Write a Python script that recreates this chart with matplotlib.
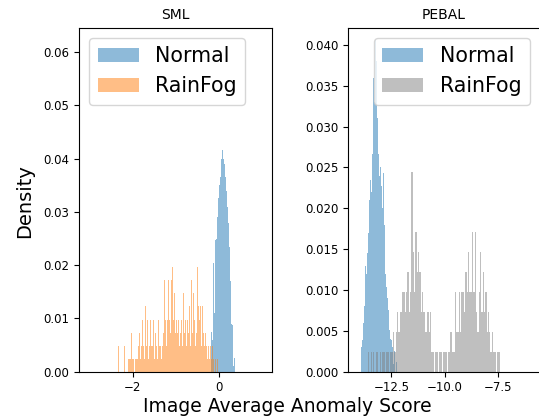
import numpy as np
from matplotlib import pyplot as plt

# SML panel: bar heights, bins of equal width
sml_normal_start = -0.192
sml_normal_width = 0.0232
sml_normal = [0.0075, 0.006, 0.0204, 0.011, 0.0247, 0.025, 0.029, 0.0326, 0.035, 0.0366,
              0.040, 0.0416, 0.040, 0.039, 0.0366, 0.034, 0.031, 0.028, 0.0235, 0.017,
              0.009, 0.0088, 0.001, 0.0025]

unit = 0.00245  # one sample of the RainFog set
sml_rain_start = -2.34
sml_rain_width = 0.0232
sml_rain = [2, 0, 0, 0, 0, 0, 2, 0, 0, 0, 1, 1, 1, 3, 1, 1, 0, 1, 1, 1,
            2, 3, 1, 2, 4, 2, 1, 5, 2, 4, 1, 2, 4, 2, 2, 4, 1, 3, 2, 1,
            4, 2, 2, 1, 2, 3, 7, 4, 2, 4, 7, 4, 3, 7, 8, 4, 6, 3, 4, 3,
            4, 2, 3, 4, 2, 6, 3, 4, 2, 4, 3, 5, 2, 7, 3, 6, 4, 2, 3, 8,
            5, 4, 5, 2, 5, 3, 2, 3, 2, 1, 2, 1, 2, 1, 2, 1, 0, 1, 0, 1]

# PEBAL panel
pebal_normal_start = -13.94
pebal_normal_width = 0.0374
pebal_normal = [0.0014, 0.003, 0.0039, 0.006, 0.008, 0.011, 0.0129, 0.012, 0.0145, 0.017,
                0.0194, 0.021, 0.0235, 0.022, 0.0267, 0.029, 0.036, 0.033, 0.0406, 0.038,
                0.0288, 0.031, 0.0267, 0.024, 0.0251, 0.021, 0.0227, 0.020, 0.0243, 0.018,
                0.0145, 0.012, 0.0104, 0.009, 0.0076, 0.006, 0.0051, 0.004, 0.0039, 0.003,
                0.0022, 0.001, 0.0025, 0.0, 0.0012]

pebal_rain_start = -13.598
pebal_rain_width = 0.0617
pebal_rain = [1, 0, 1, 0, 1, 0, 1, 1, 0, 1, 0, 1, 1, 0, 1, 1, 0, 1, 1, 2,
              1, 2, 3, 2, 3, 3, 4, 4, 3, 4, 5, 3, 4, 10, 6, 4, 7, 5, 6, 5,
              3, 4, 3, 2, 2, 3, 2, 3, 1, 1, 0, 1, 1, 0, 1, 1, 0, 1, 1, 1,
              0, 1, 2, 2, 1, 1, 4, 2, 2, 4, 2, 4, 4, 3, 5, 4, 6, 4, 4, 7,
              4, 7, 3, 2, 4, 6, 3, 5, 3, 4, 2, 3, 2, 1, 2, 1, 1, 0, 1, 1]


def draw_hist(ax, start, width, heights, color, label):
    h = np.asarray(heights, dtype=float)
    left = start + width * np.arange(len(h))
    ax.bar(left, h, width=width, align='edge', color=color, alpha=0.5,
           linewidth=0, label=label)


fig = plt.figure(figsize=(5.39, 4.2), dpi=100)
ax1 = fig.add_axes([79 / 539, 48.3 / 420, 192.7 / 539, 344 / 420])
ax2 = fig.add_axes([348 / 539, 48.3 / 420, 192 / 539, 344 / 420])

draw_hist(ax1, sml_normal_start, sml_normal_width, sml_normal, 'tab:blue', 'Normal')
draw_hist(ax1, sml_rain_start, sml_rain_width, np.array(sml_rain) * unit, 'tab:orange', 'RainFog')
ax1.set_xlim(-3.24, 1.22)
ax1.set_ylim(0, 0.0646)
ax1.set_xticks([-2, 0])
ax1.set_title('SML', fontsize=10)
ax1.legend(loc='upper left', fontsize=14.8)

draw_hist(ax2, pebal_normal_start, pebal_normal_width, pebal_normal, 'tab:blue', 'Normal')
draw_hist(ax2, pebal_rain_start, pebal_rain_width, np.array(pebal_rain) * unit, 'gray', 'RainFog')
ax2.set_xlim(-14.53, -5.54)
ax2.set_ylim(0, 0.0421)
ax2.set_xticks([-12.5, -10.0, -7.5])
ax2.set_title('PEBAL', fontsize=10)
ax2.legend(loc='upper right', fontsize=14.8)

for ax in (ax1, ax2):
    ax.tick_params(labelsize=8.5)

fig.text(25 / 539, 1 - 201 / 420, 'Density', rotation=90, ha='center', va='center', fontsize=14)
fig.text(287 / 539, (420 - 412.5) / 420, 'Image Average Anomaly Score', ha='center',
         va='baseline', fontsize=13.5)

plt.savefig('out.png', dpi=100)
